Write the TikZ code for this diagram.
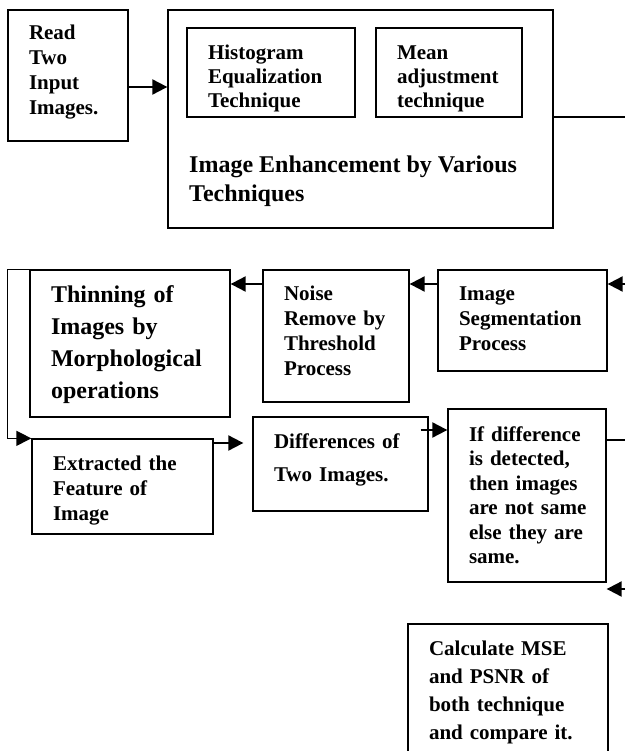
\documentclass[tikz,border=0pt]{standalone}
\usepackage{fontspec}
\setmainfont{Liberation Serif}
\usetikzlibrary{arrows.meta}

\begin{document}
\begin{tikzpicture}[x=1pt, y=-1pt,
	frame/.style={draw, line width=1.3pt, inner sep=0pt},
	stepbox/.style={frame, align=left, inner xsep=21pt, inner ysep=0pt},
	txt/.style={font=\fontsize{21}{#1}\selectfont\bfseries},
	big/.style={font=\fontsize{24}{#1}\selectfont\bfseries},
	arr/.style={-{Triangle[length=15pt,width=15pt]}, line width=2pt},
	ln/.style={line width=1.2pt}]
	\useasboundingbox (0,0) rectangle (625,751);
	\node [stepbox, txt=25, text width=78pt, text height=30pt, text depth=101pt] (read) at (68,75.5) {Read\\Two\\Input\\Images.};
	\node [frame, minimum width=385pt, minimum height=218pt] (enh) at (360.5,119) {};
	\node [stepbox, txt=24, text width=126pt, text height=32pt, text depth=57pt] (hist) at (271,72.5) {Histogram\\Equalization\\Technique};
	\node [stepbox, txt=24, text width=104pt, text height=32pt, text depth=57pt] (mean) at (449,72.5) {Mean\\adjustment\\technique};
	\node [big=29, align=left, inner sep=0pt, anchor=base west] (enhtxt) at (189,202) {Image Enhancement by Various\\Techniques};
	\node [stepbox, big=32, text width=158pt, text height=32pt, text depth=115pt] (thin) at (130,343.5) {Thinning of\\Images by\\Morphological\\operations};
	\node [stepbox, txt=25, text width=104pt, text height=30pt, text depth=102pt] (noise) at (336,336) {Noise\\Remove by\\Threshold\\Process};
	\node [stepbox, txt=25, text width=127pt, text height=30pt, text depth=71pt] (seg) at (522.5,320.5) {Image\\Segmentation\\Process};
	\node [stepbox, txt=25, text width=139pt, text height=31pt, text depth=64pt] (ext) at (122.5,486.5) {Extracted the\\Feature of\\Image};
	\node [stepbox, txt=33, text width=133pt, text height=31pt, text depth=63pt] (diff) at (340.5,464) {Differences of\\Two Images.};
	\node [stepbox, txt=24.5, text width=116pt, text height=32pt, text depth=141pt] (ifd) at (527,495.5) {If difference\\is detected,\\then images\\are~not~same\\else they are\\same.};
	\node [stepbox, txt=28, text width=158pt, text height=31pt, text depth=101pt] (calc) at (508,690) {Calculate MSE\\and PSNR of\\both technique\\and compare it.};
	\coordinate (a1) at (0,87);
	\coordinate (a2) at (0,284);
	\coordinate (a3) at (0,443);
	\coordinate (a4) at (0,430);
	\coordinate (o1) at (625,117);
	\coordinate (o2) at (625,284);
	\coordinate (o3) at (625,440);
	\coordinate (o4) at (625,589);
	\draw [arr] (read.east |- a1) -- (enh.west |- a1);
	\draw [ln] (enh.east |- o1) -- (o1);
	\draw [arr] (o2) -- (seg.east |- o2);
	\draw [arr] (seg.west |- a2) -- (noise.east |- a2);
	\draw [arr] (noise.west |- a2) -- (thin.east |- a2);
	\draw [arr, line width=1.3pt] (thin.north west) -- ++(-22,0) |- (ext.north west);
	\draw [arr, shorten >=9pt] (ext.east |- a3) -- (diff.west |- a3);
	\draw [arr, shorten <=-8pt] (diff.east |- a4) -- (ifd.west |- a4);
	\draw [ln] (ifd.east |- o3) -- (o3);
	\draw [arr] (o4) -- (ifd.east |- o4);
\end{tikzpicture}
\end{document}
